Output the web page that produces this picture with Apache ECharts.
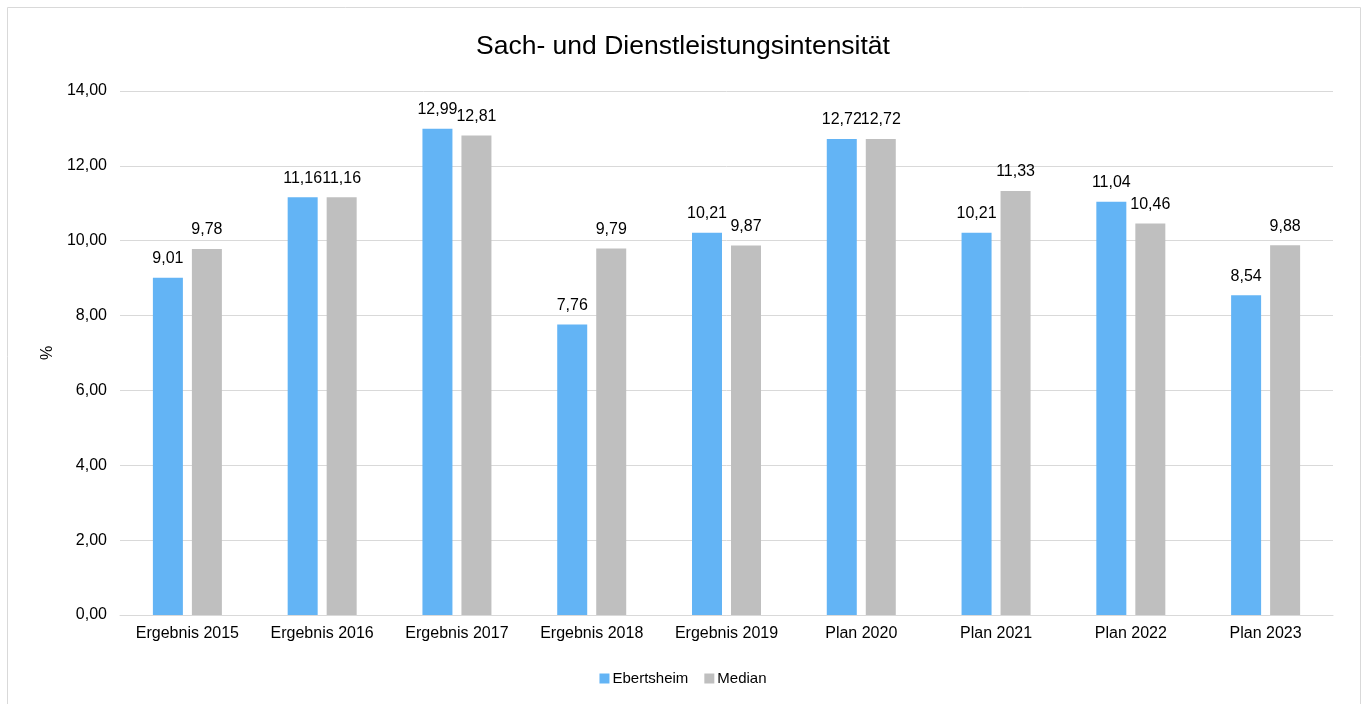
<!DOCTYPE html>
<html>
<head>
<meta charset="utf-8">
<script src="https://cdn.jsdelivr.net/npm/echarts@6/dist/echarts.min.js"></script>
<style>
  html, body { margin: 0; padding: 0; background: #fff; }
  #main { width: 1366px; height: 704px; }
</style>
</head>
<body>
<div id="main"></div>
<script>
const categories = ['Ergebnis 2015', 'Ergebnis 2016', 'Ergebnis 2017', 'Ergebnis 2018', 'Ergebnis 2019', 'Plan 2020', 'Plan 2021', 'Plan 2022', 'Plan 2023'];
const ebertsheim = [9.01, 11.16, 12.99, 7.76, 10.21, 12.72, 10.21, 11.04, 8.54];
const median = [9.78, 11.16, 12.81, 9.79, 9.87, 12.72, 11.33, 10.46, 9.88];

const fmt = v => v.toFixed(2).replace('.', ',');
const font = 'Liberation Sans, Arial, sans-serif';

const chart = echarts.init(document.getElementById('main'));
chart.setOption({
    animation: false,
    textStyle: { fontFamily: font },
    graphic: [{
        type: 'rect',
        shape: { x: 7.5, y: 7.5, width: 1353, height: 720 },
        style: { fill: 'none', stroke: '#d9d9d9', lineWidth: 1 },
        silent: true
    }],
    title: {
        text: 'Sach- und Dienstleistungsintensität',
        left: 'center',
        top: 28,
        textStyle: { fontFamily: font, fontSize: 26.5, fontWeight: 'normal', color: '#000' }
    },
    legend: {
        top: 666,
        left: 'center',
        itemWidth: 10,
        itemHeight: 10,
        itemGap: 16,
        icon: 'rect',
        textStyle: { fontFamily: font, fontSize: 15, color: '#000', padding: [0, 0, 0, -2] },
        data: ['Ebertsheim', 'Median']
    },
    grid: { left: 120, right: 33, top: 91, bottom: 89, containLabel: false },
    xAxis: {
        type: 'category',
        data: categories,
        axisLine: { lineStyle: { color: '#d9d9d9', width: 1 } },
        axisTick: { show: false },
        axisLabel: { fontFamily: font, fontSize: 16, color: '#000', margin: 11 }
    },
    yAxis: {
        type: 'value',
        min: 0,
        max: 14,
        interval: 2,
        name: '%',
        nameLocation: 'middle',
        nameGap: 58,
        nameTextStyle: { fontFamily: font, fontSize: 16, color: '#000' },
        axisLine: { show: false },
        axisTick: { show: false },
        axisLabel: { fontFamily: font, fontSize: 16, color: '#000', margin: 13, formatter: fmt },
        splitLine: { lineStyle: { color: '#d9d9d9', width: 1 } }
    },
    series: [
        {
            name: 'Ebertsheim',
            type: 'bar',
            data: ebertsheim,
            barWidth: 30,
            barGap: '30%',
            itemStyle: { color: '#63b4f5' },
            label: { show: true, position: 'top', distance: 11, fontFamily: font, fontSize: 16, color: '#000', formatter: p => fmt(p.value) }
        },
        {
            name: 'Median',
            type: 'bar',
            data: median,
            barWidth: 30,
            itemStyle: { color: '#bfbfbf' },
            label: { show: true, position: 'top', distance: 11, fontFamily: font, fontSize: 16, color: '#000', formatter: p => fmt(p.value) }
        }
    ]
});
</script>
</body>
</html>
